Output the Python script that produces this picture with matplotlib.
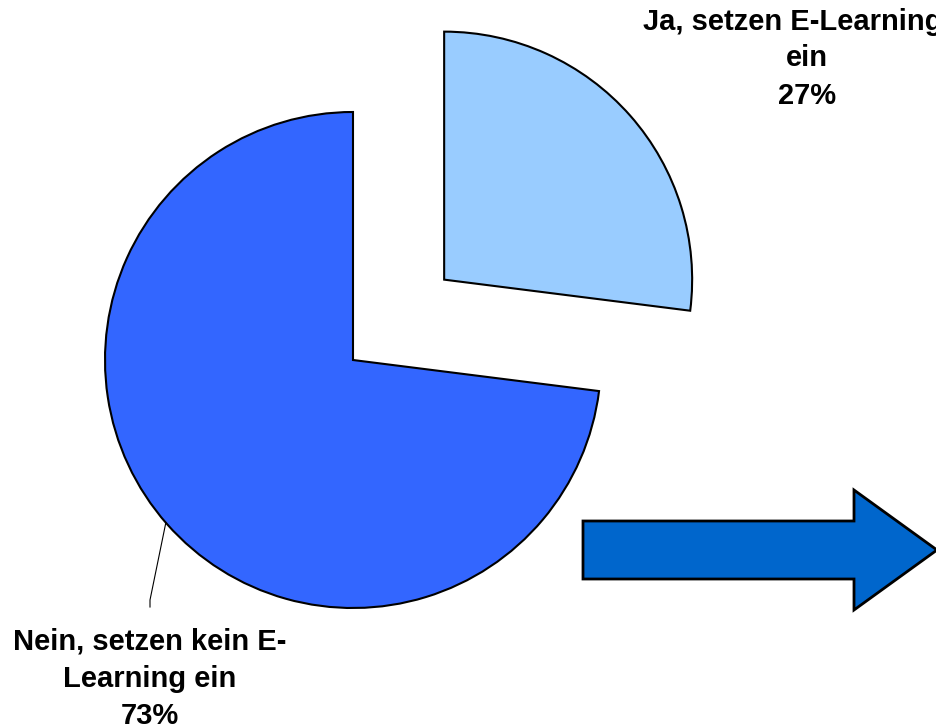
import numpy as np
import matplotlib.pyplot as plt
from matplotlib.patches import FancyArrow

labels = ["Ja, setzen E-Learning\nein", "Nein, setzen kein E-\nLearning ein"]
values = [27, 73]
explode = [0.49, 0]  # fraction of radius
colors = ["#99CCFF", "#3366FF"]

W, H = 937, 727
fig = plt.figure(figsize=(W / 100, H / 100), dpi=100)
ax = fig.add_axes([0, 0, 1, 1])

cx, cy, r = 353, H - 360, 248
wedges, _ = ax.pie(values, explode=[e * r for e in explode], startangle=90,
                   counterclock=False, colors=colors, center=(cx, cy), radius=r,
                   wedgeprops=dict(edgecolor="black", linewidth=1.5))
ax.set_xlim(0, W)
ax.set_ylim(0, H)
ax.set_aspect("equal")
ax.axis("off")

font = dict(family=["Liberation Sans", "DejaVu Sans"], fontweight="bold",
            fontsize=21, ha="center", va="center", linespacing=1.42)

# label for the "Ja" slice (first line runs off the right edge, as in the original)
first, rest = labels[0].split("\n", 1)
ax.text(793, H - 22, first, clip_on=False, **font)
ax.text(807, H - 77, f"{rest}\n{values[0]}%", **font)

# label for the "Nein" slice with leader line
ang = np.deg2rad(221)
ex, ey = cx + r * np.cos(ang), cy + r * np.sin(ang)
ax.plot([ex, 150, 150], [ey, H - 600, H - 607], color="black", lw=0.8)
ax.text(150, H - 679, f"{labels[1]}\n{values[1]}%", **font)

arrow = FancyArrow(583, H - 550, 354, 0, width=58, head_width=120,
                   head_length=83, length_includes_head=True,
                   facecolor="#0066CC", edgecolor="black", linewidth=2)
ax.add_patch(arrow)

fig.savefig("out.png", dpi=100)
